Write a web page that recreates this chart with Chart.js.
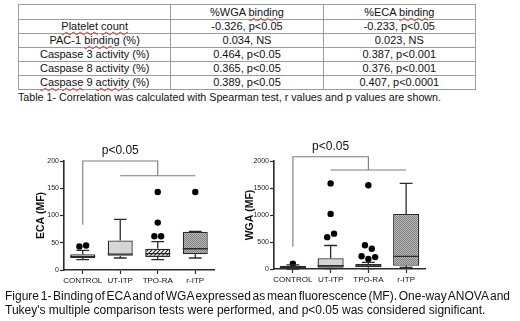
<!DOCTYPE html>
<html>
<head>
<meta charset="utf-8">
<script src="https://cdn.jsdelivr.net/npm/chart.js@4.4.1/dist/chart.umd.min.js"></script>
<style>
  html, body { margin: 0; padding: 0; background: #fff; }
  body { width: 520px; height: 321px; position: relative; overflow: hidden;
         font-family: Arial, "Liberation Sans", sans-serif; color: #111; }
  table { position: absolute; left: 18px; top: 4px; width: 458px; border-collapse: collapse;
          table-layout: fixed; font-size: 11px; }
  td { border: 1px solid #9c9c9c; padding: 0; text-align: center; height: 13px; line-height: 13px; white-space: nowrap; }
  tr.head td { height: 14px; }
  .sp { text-decoration: underline wavy #e0302a; text-decoration-thickness: 1px; text-underline-offset: 1px; }
  #tcap { position: absolute; left: 18px; top: 91px; font-size: 10.7px; white-space: nowrap; }
  canvas { position: absolute; }
  #figcap { position: absolute; left: 5px; top: 290px; width: 505px; font-size: 12px; line-height: 13.5px; }
  #figcap .l1 { text-align: justify; text-align-last: justify; word-spacing: -2px; white-space: nowrap; }
  #figcap .l2 { white-space: nowrap; }
</style>
</head>
<body>
<table>
  <tr class="head"><td></td><td>%WGA <span class="sp">binding</span></td><td>%ECA <span class="sp">binding</span></td></tr>
  <tr><td><span class="sp">Platelet</span> <span class="sp">count</span></td><td>-0.326, p&lt;0.05</td><td>-0.233, p&lt;0.05</td></tr>
  <tr><td>PAC-1 <span class="sp">binding</span> (%)</td><td>0.034, NS</td><td>0.023, NS</td></tr>
  <tr><td>Caspase 3 activity (%)</td><td>0.464, p&lt;0.05</td><td>0.387, p&lt;0.001</td></tr>
  <tr><td>Caspase 8 activity (%)</td><td>0.365, p&lt;0.05</td><td>0.376, p&lt;0.001</td></tr>
  <tr><td><span class="sp">Caspase</span> 9 <span class="sp">activity</span> (%)</td><td>0.389, p&lt;0.05</td><td>0.407, p&lt;0.0001</td></tr>
</table>
<div id="tcap">Table 1- Correlation was calculated with Spearman test, r values and p values are shown.</div>

<canvas id="ecaChart" width="230" height="165" style="left:0;top:130px"></canvas>
<canvas id="wgaChart" width="290" height="165" style="left:230px;top:130px"></canvas>

<div id="figcap">
  <div class="l1">Figure 1- Binding of ECA and of WGA expressed as mean fluorescence (MF). One-way ANOVA and</div>
  <div class="l2">Tukey's multiple comparison tests were performed, and p&lt;0.05 was considered significant.</div>
</div>

<script>
const groups = ["CONTROL", "UT-ITP", "TPO-RA", "r-ITP"];

// ECA (MF)
const ecaMin = [19, 22, 19, 22];
const ecaQ1 = [22, 26, 24, 29];
const ecaMedian = [25, 29, 30, 39];
const ecaQ3 = [29, 54, 39, 70];
const ecaMax = [36, 93, 52, 71];
const ecaOutliers = [[43, 45], [], [143, 87, 62, 62], [143]];
const ecaTicks = [0, 50, 100, 150, 200];
const ecaBracket = [83, 200, 173]; // control leg start, upper line, lower line

// WGA (MF)
const wgaMin = [0, 6, 6, 31];
const wgaQ1 = [12, 25, 31, 58];
const wgaMedian = [30, 60, 56, 235];
const wgaQ3 = [58, 198, 93, 1020];
const wgaMax = [75, 435, 124, 1585];
const wgaOutliers = [[100], [1585, 1020, 590, 655], [1550, 440, 375, 235, 185, 220], []];
const wgaTicks = [0, 500, 1000, 1500, 2000];
const wgaBracket = [413, 2080, 1833];

const sigLabel = "p<0.05";

const FONT = "Arial, 'Liberation Sans', sans-serif";
const INK = "#2b2b2b";

function hatch() {
    const c = document.createElement("canvas");
    c.width = 4; c.height = 4;
    const g = c.getContext("2d");
    g.fillStyle = "#fff";
    g.fillRect(0, 0, 4, 4);
    g.strokeStyle = "#222";
    g.lineWidth = 1.2;
    g.beginPath();
    g.moveTo(0, 4); g.lineTo(4, 0);
    g.moveTo(-1, 1); g.lineTo(1, -1);
    g.moveTo(3, 5); g.lineTo(5, 3);
    g.stroke();
    return g.createPattern(c, "repeat");
}

function stipple() {
    const c = document.createElement("canvas");
    c.width = 2; c.height = 2;
    const g = c.getContext("2d");
    g.fillStyle = "#bcbcbc";
    g.fillRect(0, 0, 2, 2);
    g.fillStyle = "#7c7c7c";
    g.fillRect(0, 0, 1, 1);
    g.fillRect(1, 1, 1, 1);
    return g.createPattern(c, "repeat");
}

// outliers that sit at about the same height are spread side by side
// (x is a category index, so these points skip parsing)
function spreadOutliers(lists, gap, step) {
    const pts = [];
    lists.forEach((vals, g) => {
        const order = vals.map((v, i) => i).sort((a, b) => vals[b] - vals[a]);
        let row = [];
        const flush = () => {
            row.sort((a, b) => a - b);
            row.forEach((i, k) => pts.push({ x: g + (k - (row.length - 1) / 2) * step, y: vals[i] }));
            row = [];
        };
        order.forEach(i => {
            if (row.length && vals[row[0]] - vals[i] > gap) flush();
            row.push(i);
        });
        if (row.length) flush();
    });
    return pts;
}

function whiskerPlugin(mins, medians, maxs, q1s, q3s, bracket) {
    return {
        id: "whiskers",
        afterDatasetsDraw(chart) {
            const { ctx } = chart;
            const x = chart.scales.x;
            const y = chart.scales.y;
            const boxes = chart.getDatasetMeta(0).data;
            ctx.save();
            ctx.strokeStyle = INK;
            ctx.lineWidth = 1.3;
            mins.forEach((mn, i) => {
                const cx = x.getPixelForValue(i);
                const cap = x.getPixelForValue(i + 0.17) - cx;
                const hw = boxes[i].width / 2;
                const pMin = y.getPixelForValue(mn);
                const pMax = y.getPixelForValue(maxs[i]);
                const pQ1 = y.getPixelForValue(q1s[i]);
                const pQ3 = y.getPixelForValue(q3s[i]);
                const pMed = y.getPixelForValue(medians[i]);
                ctx.beginPath();
                ctx.moveTo(cx, pQ1); ctx.lineTo(cx, pMin);
                ctx.moveTo(cx - cap, pMin); ctx.lineTo(cx + cap, pMin);
                ctx.moveTo(cx, pQ3); ctx.lineTo(cx, pMax);
                ctx.moveTo(cx - cap, pMax); ctx.lineTo(cx + cap, pMax);
                ctx.moveTo(cx - hw, pMed); ctx.lineTo(cx + hw, pMed);
                ctx.stroke();
            });
            ctx.fillStyle = "#111";
            ctx.font = "12px " + FONT;
            ctx.textAlign = "center";
            ctx.textBaseline = "bottom";
            ctx.fillText(sigLabel, x.getPixelForValue(1), y.getPixelForValue(bracket[1]) - 4);
            ctx.restore();
        }
    };
}

function boxChart(id, o) {
    const ctx = document.getElementById(id).getContext("2d");
    const fills = ["#ffffff", "#d6d6d6", hatch(), stipple()];
    const yMax = o.ticks[o.ticks.length - 1];
    const b = o.bracket;

    new Chart(ctx, {
        type: "bar",
        data: {
            labels: groups,
            datasets: [
                {
                    type: "bar",
                    data: o.q1.map((v, i) => [v, o.q3[i]]),
                    backgroundColor: fills,
                    borderColor: INK,
                    borderWidth: 1.3,
                    borderSkipped: false,
                    grouped: false,
                    barPercentage: o.barPct,
                    categoryPercentage: 1
                },
                {
                    type: "scatter",
                    parsing: false,
                    data: spreadOutliers(o.outliers, yMax * 0.045, 0.18),
                    pointRadius: 3.2,
                    pointBackgroundColor: "#000",
                    pointBorderWidth: 0,
                    clip: false
                },
                {
                    type: "line",
                    parsing: false,
                    data: [{ x: 0, y: b[0] }, { x: 0, y: b[1] }, { x: 2, y: b[1] }, { x: 2, y: b[2] }],
                    borderColor: "#7a7a7a",
                    borderWidth: 1.1,
                    pointRadius: 0,
                    tension: 0,
                    clip: false
                },
                {
                    type: "line",
                    parsing: false,
                    data: [{ x: 1, y: b[2] }, { x: 3, y: b[2] }],
                    borderColor: "#7a7a7a",
                    borderWidth: 1.1,
                    pointRadius: 0,
                    clip: false
                }
            ]
        },
        options: {
            responsive: false,
            animation: false,
            events: [],
            devicePixelRatio: 1,
            layout: { padding: { left: 0, right: o.padRight, top: 31, bottom: 0 } },
            plugins: {
                legend: { display: false },
                tooltip: { enabled: false }
            },
            scales: {
                x: {
                    type: "category",
                    offset: true,
                    grid: { drawOnChartArea: false, offset: false, tickLength: 4, color: INK, tickWidth: 1.2 },
                    border: { color: INK, width: 1.6 },
                    ticks: { color: "#111", font: { size: 8, family: FONT }, padding: 2, maxRotation: 0, autoSkip: false },
                    afterFit: s => { s.height = o.xHeight; }
                },
                y: {
                    min: 0,
                    max: yMax,
                    afterBuildTicks: s => { s.ticks = o.ticks.map(v => ({ value: v })); },
                    grid: { drawOnChartArea: false, tickLength: 4, color: INK, tickWidth: 1.2 },
                    border: { color: INK, width: 1.6 },
                    ticks: { color: "#222", font: { size: 7, family: FONT }, padding: 1, callback: v => String(v) },
                    title: {
                        display: true,
                        text: o.title,
                        color: "#111",
                        font: { size: 10.5, weight: "bold", family: FONT },
                        padding: { top: o.titlePad, bottom: 0 }
                    },
                    afterFit: s => { s.width = o.yWidth; }
                }
            }
        },
        plugins: [whiskerPlugin(o.min, o.median, o.max, o.q1, o.q3, b)]
    });
}

document.addEventListener("DOMContentLoaded", () => {
    boxChart("ecaChart", {
        title: "ECA (MF)",
        min: ecaMin, q1: ecaQ1, median: ecaMedian, q3: ecaQ3, max: ecaMax,
        outliers: ecaOutliers, ticks: ecaTicks, bracket: ecaBracket,
        barPct: 0.667, padRight: 16, yWidth: 64, xHeight: 25, titlePad: 35
    });
    boxChart("wgaChart", {
        title: "WGA (MF)",
        min: wgaMin, q1: wgaQ1, median: wgaMedian, q3: wgaQ3, max: wgaMax,
        outliers: wgaOutliers, ticks: wgaTicks, bracket: wgaBracket,
        barPct: 0.69, padRight: 95, yWidth: 44, xHeight: 26, titlePad: 14
    });
});
</script>
</body>
</html>
